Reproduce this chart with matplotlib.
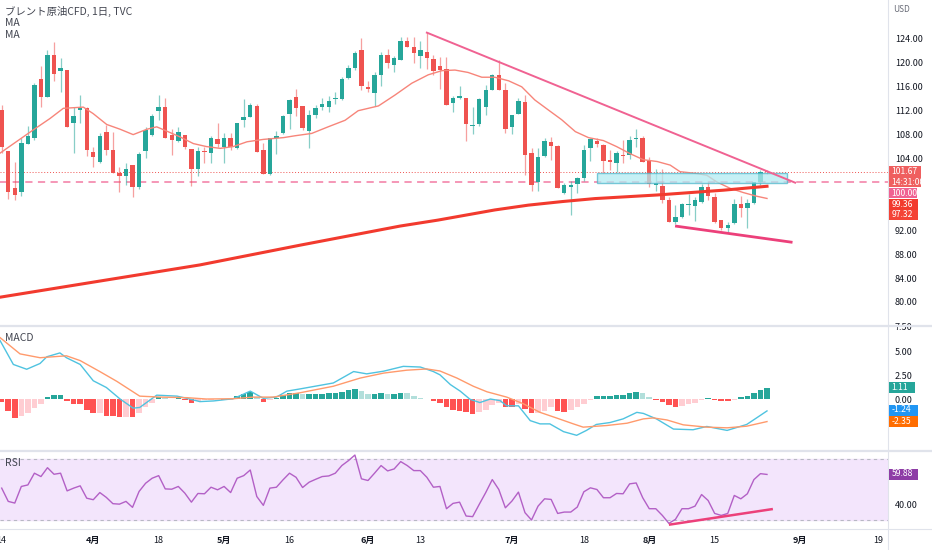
import matplotlib
matplotlib.use("Agg")
import matplotlib.pyplot as plt
from matplotlib.patches import Rectangle
from matplotlib.lines import Line2D
import numpy as np

plt.rcParams['font.family'] = ['Noto Sans CJK JP', 'DejaVu Sans']

# daily candles, Brent CFD (index 0 = 14 Mar)
opens = [112.1, 105.3, 99.0, 98.4, 106.5, 107.4, 117.3, 114.3, 121.3, 118.7,
         118.8, 109.9, 112.1, 112.5, 105.1, 103.5, 108.5, 105.4, 101.5, 101.1,
         102.9, 99.3, 105.2, 108.0, 112.0, 112.7, 108.0, 106.9, 108.0, 105.6,
         102.3, 105.3, 104.9, 107.2, 106.0, 107.5, 105.7, 110.4, 111.0, 112.8,
         105.4, 101.4, 107.5, 108.2, 111.5, 114.3, 112.8, 108.6, 111.3, 112.6,
         112.6, 114.0, 114.0, 117.4, 119.1, 122.2, 115.9, 114.9, 118.0, 121.3,
         119.6, 120.5, 123.6, 122.7, 121.2, 121.8, 120.6, 119.4, 118.9, 113.3,
         114.1, 114.2, 109.4, 109.8, 112.7, 115.5, 118.0, 115.5, 109.2, 111.5,
         113.5, 104.9, 100.0, 104.4, 106.8, 106.1, 98.2, 99.2, 99.7, 100.7,
         105.7, 107.0, 106.3, 103.7, 103.2, 104.6, 104.6, 107.2, 107.4, 103.6,
         99.6, 99.4, 97.1, 93.4, 94.2, 96.2, 96.1, 96.8, 99.2, 97.6,
         93.7, 92.4, 93.2, 96.4, 95.8, 96.5, 100.0, 101.85]
highs = [113.0, 105.3, 103.5, 107.4, 109.4, 116.7, 119.5, 122.2, 123.5, 120.8,
         118.8, 112.7, 114.6, 112.7, 106.0, 108.3, 109.6, 108.5, 102.6, 103.3,
         102.9, 105.1, 109.3, 111.5, 114.7, 114.1, 108.9, 109.3, 108.0, 105.6,
         106.0, 105.9, 107.8, 109.9, 108.2, 108.3, 110.0, 113.9, 113.3, 113.1,
         106.6, 107.5, 108.6, 111.3, 113.9, 115.6, 112.8, 112.1, 113.0, 114.2,
         114.5, 115.1, 117.6, 119.6, 122.0, 124.1, 116.9, 118.4, 121.9, 122.3,
         121.2, 124.4, 124.3, 124.3, 123.6, 125.1, 121.3, 121.0, 121.0, 114.4,
         116.1, 114.2, 112.6, 114.1, 116.3, 118.1, 120.4, 116.6, 111.3, 114.1,
         114.6, 105.7, 105.8, 107.4, 107.6, 106.3, 99.9, 100.3, 100.9, 106.3,
         107.4, 107.4, 106.5, 105.5, 105.2, 107.1, 107.8, 108.9, 107.7, 104.2,
         102.2, 102.2, 97.5, 96.2, 96.6, 98.1, 97.6, 99.7, 100.0, 98.2,
         93.7, 93.4, 97.2, 97.7, 97.2, 100.1, 102.0, 102.0]
lows = [104.9, 97.3, 97.0, 97.8, 106.5, 107.1, 112.7, 114.3, 117.0, 115.2,
        109.3, 104.9, 109.9, 104.4, 102.5, 103.3, 104.6, 101.5, 98.4, 99.6,
        97.6, 98.9, 104.1, 107.8, 110.5, 107.4, 104.6, 106.8, 105.6, 99.4,
        101.1, 103.3, 103.3, 106.0, 103.2, 105.5, 105.6, 109.2, 110.9, 105.1,
        101.4, 101.2, 104.7, 108.1, 109.0, 111.1, 108.8, 105.8, 110.7, 112.1,
        111.8, 113.1, 113.8, 117.3, 118.8, 115.4, 115.2, 112.8, 116.1, 119.2,
        118.5, 120.4, 122.6, 119.9, 119.1, 118.9, 118.0, 115.6, 112.9, 111.7,
        113.9, 107.0, 108.1, 109.4, 111.3, 115.4, 115.4, 108.2, 108.1, 111.5,
        101.2, 98.5, 98.5, 104.3, 103.8, 99.0, 98.1, 94.6, 98.2, 100.3,
        103.6, 106.0, 101.6, 102.0, 101.8, 103.2, 103.9, 106.0, 103.5, 99.2,
        98.6, 96.5, 93.3, 93.0, 94.0, 94.6, 93.6, 96.6, 97.1, 93.2,
        92.0, 91.6, 93.0, 94.3, 92.3, 96.4, 99.6, 101.4]
closes = [106.0, 98.4, 97.9, 106.6, 107.8, 116.3, 114.3, 121.3, 118.2, 119.2,
          109.3, 111.1, 112.4, 105.4, 104.2, 107.8, 105.4, 101.5, 101.1, 102.2,
          99.3, 104.7, 108.8, 111.1, 112.7, 107.4, 107.1, 108.5, 106.0, 102.3,
          105.2, 105.1, 107.4, 106.4, 107.5, 105.9, 110.0, 110.9, 113.0, 105.1,
          101.4, 107.5, 107.8, 111.1, 113.8, 112.5, 109.1, 111.3, 112.4, 113.2,
          113.6, 114.2, 117.3, 119.1, 121.7, 116.1, 115.6, 118.0, 121.3, 119.9,
          120.9, 123.7, 122.7, 121.7, 122.2, 120.8, 118.7, 118.8, 112.9, 114.1,
          114.5, 109.8, 109.6, 113.9, 115.4, 118.0, 115.5, 109.0, 111.3, 113.7,
          104.6, 99.6, 104.2, 107.0, 106.1, 99.0, 99.6, 99.5, 100.7, 105.5,
          107.2, 106.4, 103.6, 103.5, 104.9, 104.4, 107.1, 107.5, 103.5, 99.7,
          99.9, 97.0, 93.4, 94.2, 96.4, 96.3, 97.0, 99.2, 97.7, 93.3,
          92.3, 92.9, 96.4, 95.7, 96.5, 100.0, 101.8, 101.67]

# moving averages (bar index, value)
ma20_x = [-0.26, 4.84, 7.39, 9.42, 12.48, 14.0, 16.05, 18.1, 20.1, 22.2, 23.7,
          25.2, 27.3, 29.3, 31.3, 33.4, 35.4, 37.5, 40.0, 43.1, 44.8, 47.4,
          49.9, 52.5, 54.5, 57.6, 60.1, 62.7, 65.2, 67.3, 69.3, 71.3, 73.4,
          75.4, 77.5, 79.5, 81.5, 83.6, 85.6, 87.7, 89.7, 92.0, 94.0, 96.1,
          98.1, 100.2, 102.2, 103.7, 106.2, 107.8, 109.3, 111.4, 113.4, 115.4, 117.0]
ma20_y = [104.9, 108.8, 110.7, 112.4, 112.6, 111.5, 109.7, 108.9, 108.0, 108.9, 109.3,
          108.6, 107.6, 106.5, 106.0, 105.7, 106.0, 106.8, 107.2, 107.5, 107.8, 108.2,
          109.3, 110.4, 112.0, 112.8, 114.6, 116.6, 118.0, 118.7, 118.8, 118.4, 117.6,
          117.6, 117.0, 116.0, 113.8, 112.1, 110.5, 108.5, 107.5, 107.0, 106.0, 104.8,
          103.8, 103.5, 102.9, 101.8, 101.5, 101.2, 100.1, 99.0, 98.3, 97.7, 97.32]
ma200_x = [-0.26, 15.0, 30.3, 45.6, 60.9, 66.7, 75.4, 80.5, 85.7, 90.7, 100.2, 110.3, 117.0]
ma200_y = [80.8, 83.5, 86.2, 89.5, 92.7, 93.7, 95.4, 96.2, 96.8, 97.3, 97.9, 98.7, 99.36]

# drawings
hline_level = 100.0
trend_x = [65.0, 121.3]
trend_y = [125.06, 99.96]
support_x = [102.95, 120.9]
support_y = [92.71, 89.98]
zone_x = [91.0, 120.0]
zone_y = [99.96, 101.53]

# MACD
hist = [-0.3, -1.3, -2.0, -1.8, -1.5, -0.9, -0.5, 0.2, 0.37, 0.44,
        -0.2, -0.54, -0.54, -1.16, -1.5, -1.45, -1.73, -1.8, -1.9, -1.84,
        -1.86, -1.5, -0.82, -0.37, 0.2, 0.07, 0.05, 0.1, -0.07, -0.37,
        -0.2, -0.1, -0.07, -0.04, -0.14, -0.1, 0.27, 0.48, 0.68, 0.2,
        -0.27, -0.14, 0.14, 0.41, 0.58, 0.61, 0.48, 0.48, 0.51, 0.54,
        0.58, 0.58, 0.71, 0.92, 1.09, 0.82, 0.54, 0.54, 0.58, 0.51,
        0.51, 0.65, 0.61, 0.34, 0.14, 0.03, -0.2, -0.37, -0.82, -1.16,
        -1.22, -1.4, -1.56, -1.4, -1.12, -0.61, -0.37, -0.82, -0.86, -0.48,
        -1.05, -1.5, -1.48, -1.22, -0.88, -1.29, -1.31, -1.16, -0.88, -0.54,
        -0.14, 0.31, 0.31, 0.31, 0.44, 0.44, 0.65, 0.78, 0.61, 0.2,
        -0.14, -0.34, -0.65, -0.78, -0.68, -0.54, -0.37, -0.1, 0.07, -0.14,
        -0.24, -0.24, -0.1, 0.2, 0.31, 0.61, 0.95, 1.11]
macd_x = [-0.26, 1.78, 3.82, 5.86, 6.9, 8.9, 9.9, 12.0, 14.0, 16.0, 18.1, 20.1,
          21.1, 23.7, 26.8, 28.3, 30.3, 32.4, 35.4, 38.0, 40.0, 42.0, 43.6, 45.6,
          50.7, 53.8, 55.8, 58.4, 61.4, 64.0, 66.0, 67.0, 68.6, 70.1, 71.6, 73.1,
          74.7, 76.2, 77.2, 79.0, 80.8, 82.3, 83.8, 85.9, 87.9, 89.4, 90.9, 93.0,
          95.0, 97.1, 98.1, 100.1, 102.7, 105.7, 107.8, 110.9, 113.9, 115.4, 117.0]
macd_y = [6.1, 3.6, 3.1, 3.7, 4.4, 4.8, 4.3, 3.6, 1.9, 1.2, 0.0, -0.95,
          -0.88, 0.4, 0.3, 0.07, -0.27, -0.2, 0.03, 0.82, 0.07, 0.2, 0.82, 1.05,
          1.67, 2.86, 2.62, 2.9, 3.4, 3.33, 2.86, 2.52, 1.5, 0.82, -0.03, -0.37,
          0.0, -0.17, -0.71, -0.71, -2.25, -2.59, -2.59, -3.4, -3.78, -3.27, -2.65, -2.45,
          -2.07, -1.39, -1.5, -2.07, -3.13, -3.2, -2.86, -3.27, -2.65, -1.97, -1.24]
signal_x = [-0.26, 2.8, 5.86, 9.9, 12.0, 15.0, 17.6, 21.1, 24.2, 28.3, 31.3, 35.4,
            38.5, 41.5, 45.6, 50.7, 54.8, 58.4, 61.9, 65.0, 67.0, 69.6, 72.1, 74.2,
            77.2, 79.7, 82.3, 84.8, 87.4, 88.9, 92.5, 95.6, 98.1, 99.6, 101.7, 104.2,
            107.8, 110.9, 113.9, 117.0]
signal_y = [6.4, 4.7, 4.3, 4.5, 4.0, 2.86, 1.84, 0.3, 0.2, 0.14, 0.0, 0.03,
            0.2, 0.2, 0.65, 1.33, 2.18, 2.7, 3.0, 3.13, 2.92, 2.18, 1.33, 0.75,
            0.2, -0.48, -1.39, -1.97, -2.59, -2.93, -2.76, -2.52, -2.07, -1.97, -2.18, -2.69,
            -2.93, -3.0, -2.83, -2.35]

# RSI
rsi = [50.9, 42.2, 41.1, 52.0, 53.0, 60.7, 58.5, 64.3, 60.0, 60.7,
       49.1, 50.9, 52.4, 44.3, 43.3, 48.0, 44.8, 40.7, 40.4, 42.2,
       38.3, 48.7, 54.1, 57.4, 59.1, 50.4, 50.2, 52.0, 47.6, 41.7,
       47.4, 47.2, 51.5, 49.8, 52.0, 48.0, 57.4, 59.1, 62.8, 45.4,
       39.6, 50.9, 51.5, 56.3, 60.7, 58.0, 51.3, 54.8, 56.7, 58.5,
       58.9, 60.7, 65.7, 68.9, 72.6, 57.0, 55.9, 60.7, 65.7, 62.2,
       63.5, 68.3, 65.7, 62.4, 62.4, 58.0, 51.5, 52.0, 37.4, 40.9,
       41.7, 32.6, 32.2, 40.2, 48.0, 56.5, 50.0, 38.0, 42.4, 48.3,
       34.8, 30.0, 39.1, 43.9, 43.5, 34.3, 35.2, 35.2, 38.5, 48.5,
       51.1, 50.0, 44.6, 44.6, 47.4, 47.2, 53.7, 54.3, 44.6, 37.4,
       37.4, 33.0, 27.8, 30.4, 37.4, 37.4, 39.1, 46.7, 42.8, 34.3,
       33.0, 34.3, 46.1, 43.9, 47.2, 56.5, 60.4, 59.88]
rsi_line_x = [102.0, 117.9]
rsi_line_y = [26.9, 37.2]

# price ticks left visible (96 and 100 sit under the value tags)
price_ticks = [80, 84, 88, 92, 104, 108, 112, 116, 120, 124]
tick_pos = [0, 14, 24, 34, 44, 56, 64, 78, 89, 99, 109, 122, 134]
tick_lab = ['14', '4月', '18', '5月', '16', '6月', '13', '7月', '18', '8月', '15', '9月', '19']

GREEN = '#26a69a'
RED = '#ef5350'
TXT = '#131722'
GRID = '#e0e3eb'

W, H = 932, 550
fig = plt.figure(figsize=(W / 100, H / 100), dpi=100)


def fx(px):
    return px / W


def fy(py):
    return 1 - py / H


pw = 888 / W
ax = fig.add_axes([0, fy(325), pw, 325 / H])
max_ = fig.add_axes([0, fy(450), pw, (450 - 327) / H])
rax = fig.add_axes([0, fy(528), pw, (528 - 452) / H])

for a in (ax, max_, rax):
    a.set_xlim(-0.26, 135.5)
    for s in a.spines.values():
        s.set_visible(False)
    a.yaxis.tick_right()
    a.tick_params(axis='y', length=0, pad=5, labelsize=6.5, labelcolor=TXT)
    a.tick_params(axis='x', length=0)
    a.set_xticks([])

# ---- price pane
o = np.array(opens)
h = np.array(highs)
l = np.array(lows)
c = np.array(closes)
idx = np.arange(len(c))
cols = np.where(c >= o, GREEN, RED)
ax.vlines(idx, l, h, colors=cols, linewidth=0.9, alpha=0.55, zorder=2)
ax.bar(idx, np.maximum(np.abs(c - o), 0.12), bottom=np.minimum(o, c), width=0.68,
       color=cols, zorder=3)

ax.plot(ma20_x, ma20_y, color='#f7857a', lw=1.0, zorder=4)
ax.plot(ma200_x, ma200_y, color='#f23a2e', lw=2.2, zorder=4)

ax.axhline(c[-1], color=RED, lw=0.7, ls=(0, (1, 2)), zorder=1)
ax.axhline(hline_level, color='#f48fb1', lw=1.3, ls=(0, (4, 3)), zorder=1)

ax.add_patch(Rectangle((zone_x[0], zone_y[0]), zone_x[1] - zone_x[0], zone_y[1] - zone_y[0],
                       facecolor='#b2ebf2', edgecolor='#4fb8cc', lw=1.0, alpha=0.75, zorder=5))
ax.plot(trend_x, trend_y, color='#f06292', lw=1.4, zorder=6)
ax.plot(support_x, support_y, color='#ec407a', lw=2.0, zorder=6, solid_capstyle='butt')

ax.set_ylim(76.15, 130.52)
ax.set_yticks(price_ticks)
ax.set_yticklabels([f'{v:.2f}' for v in price_ticks])

# ---- MACD pane
hv = np.array(hist)
prev = np.concatenate([[hv[0]], hv[:-1]])
hcols = []
for v, p in zip(hv, prev):
    if v >= 0:
        hcols.append(GREEN if v >= p else '#b2dfdb')
    else:
        hcols.append('#ffcdd2' if v > p else '#ff5252')
max_.bar(idx, hv, width=0.85, color=hcols, zorder=2)
max_.plot(macd_x, macd_y, color='#4fc3e0', lw=1.0, zorder=3)
max_.plot(signal_x, signal_y, color='#ff9a6c', lw=1.0, zorder=3)
max_.set_ylim(-5.31, 7.24)
max_.set_yticks([0, 2.5, 5, 7.5])
max_.set_yticklabels(['0.00', '2.50', '5.00', '7.50'])

# ---- RSI pane
rax.axhspan(30, 70, color='#f3e5fc', zorder=0)
rax.axhline(70, color='#b8b8c4', lw=0.8, ls=(0, (3, 3)), zorder=1)
rax.axhline(30, color='#b8b8c4', lw=0.8, ls=(0, (3, 3)), zorder=1)
rax.plot(idx, rsi, color='#b360c6', lw=1.0, zorder=3)
rax.plot(rsi_line_x, rsi_line_y, color='#ec407a', lw=1.8, zorder=4, solid_capstyle='butt')
rax.set_ylim(24.75, 74.6)
rax.set_yticks([40])
rax.set_yticklabels(['40.00'])

rax.set_xticks(tick_pos)
rax.set_xticklabels(tick_lab, fontsize=6.5, color=TXT)
rax.tick_params(axis='x', pad=6)
for t, lab in zip(rax.get_xticklabels(), tick_lab):
    if '月' in lab:
        t.set_fontweight('bold')

# ---- frame lines
for yy in (326, 451):
    fig.add_artist(Line2D([0, 1], [fy(yy), fy(yy)], transform=fig.transFigure,
                          color=GRID, lw=1.6))
fig.add_artist(Line2D([0, 1], [fy(528.5), fy(528.5)], transform=fig.transFigure,
                      color=GRID, lw=0.8))
fig.add_artist(Line2D([fx(888), fx(888)], [0, 1], transform=fig.transFigure,
                      color=GRID, lw=0.8))

# ---- legends
fig.text(fx(5), fy(11), 'ブレント原油CFD, 1日, TVC', fontsize=7.5, color='#434651', va='center')
fig.text(fx(5), fy(23), 'MA', fontsize=7.5, color='#434651', va='center')
fig.text(fx(5), fy(35), 'MA', fontsize=7.5, color='#434651', va='center')
fig.text(fx(5), fy(338), 'MACD', fontsize=7.5, color='#434651', va='center')
fig.text(fx(5), fy(463), 'RSI', fontsize=7.5, color='#434651', va='center')
fig.text(fx(893), fy(10), 'USD', fontsize=6, color='#6a6d78', va='center')


def tag(top, bottom, lines, color, width=31):
    fig.add_artist(Rectangle((fx(889), fy(bottom)), width / W, (bottom - top) / H,
                             transform=fig.transFigure, facecolor=color,
                             edgecolor='none', zorder=10))
    step = (bottom - top) / len(lines)
    for k, txt in enumerate(lines):
        fig.text(fx(891.5), fy(top + step * (k + 0.5)), txt, fontsize=6.2, color='white',
                 va='center', ha='left', zorder=11)


tag(166.5, 187.5, [f'{c[-1]:.2f}', '14:31:00'], '#ef5f5f', 32)
tag(188, 198.5, [f'{hline_level:.2f}'], '#f06292', 28)
tag(199, 209.5, [f'{ma200_y[-1]:.2f}'], '#f23a2e', 29)
tag(209.5, 220, [f'{ma20_y[-1]:.2f}'], '#f44336', 29)
tag(381.5, 392.5, [f'{hv[-1]:.2f}'], GREEN, 26)
tag(404.5, 415.5, [f'{macd_y[-1]:.2f}'], '#2196f3', 29)
tag(415.5, 426.5, [f'{signal_y[-1]:.2f}'], '#ff6d00', 29)
tag(468.5, 479.5, [f'{rsi[-1]:.2f}'], '#8e3ca6', 29)

fig.savefig('out.png', dpi=100)
